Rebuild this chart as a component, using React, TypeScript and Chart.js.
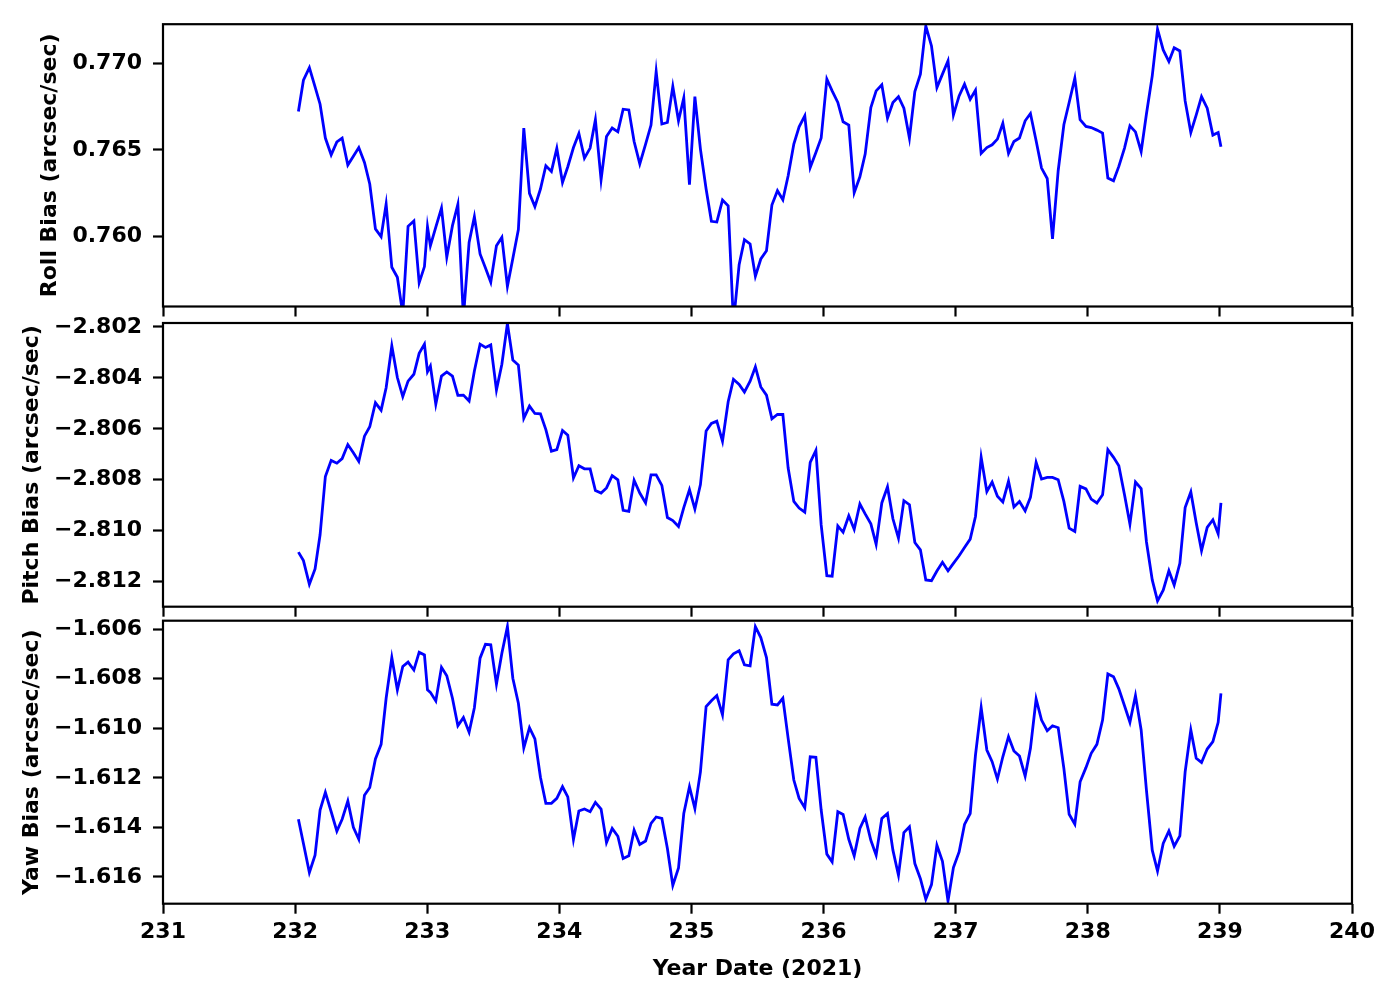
import React, { useEffect, useRef } from 'react';
import { Chart, registerables } from 'chart.js';

Chart.register(...registerables);

// Year date (2021) of each sample
const days = [
  232.025, 232.063, 232.108, 232.151, 232.189, 232.229, 232.273, 232.316, 232.356, 232.399,
  232.441, 232.482, 232.525, 232.565, 232.608, 232.651, 232.689, 232.732, 232.774, 232.815,
  232.855, 232.899, 232.939, 232.979, 233.002, 233.024, 233.065, 233.108, 233.148, 233.191,
  233.232, 233.274, 233.317, 233.357, 233.400, 233.441, 233.481, 233.524, 233.565, 233.607,
  233.648, 233.690, 233.731, 233.774, 233.815, 233.857, 233.898, 233.940, 233.981, 234.024,
  234.064, 234.107, 234.148, 234.190, 234.233, 234.273, 234.316, 234.357, 234.400, 234.443,
  234.483, 234.526, 234.566, 234.609,
  234.653, 234.694, 234.733, 234.776, 234.818, 234.859, 234.902, 234.942, 234.985, 235.026,
  235.068, 235.111, 235.151, 235.192, 235.235, 235.278, 235.318, 235.361, 235.401, 235.444,
  235.484, 235.525, 235.568, 235.609, 235.651, 235.692, 235.732, 235.775, 235.815, 235.858,
  235.899, 235.942, 235.982, 236.025, 236.065, 236.108, 236.148, 236.191, 236.232, 236.275,
  236.315, 236.358, 236.398, 236.441, 236.484, 236.525, 236.567, 236.608, 236.650, 236.691,
  236.733, 236.774, 236.817, 236.858, 236.900, 236.942, 236.983, 237.026, 237.067, 237.110,
  237.150, 237.193, 237.236,
  237.276, 237.316, 237.357, 237.400, 237.441, 237.483, 237.526, 237.566, 237.609, 237.650,
  237.693, 237.733, 237.776, 237.819, 237.859, 237.902, 237.942, 237.986, 238.026, 238.069,
  238.112, 238.152, 238.195, 238.235, 238.278, 238.319, 238.361, 238.404, 238.444, 238.488,
  238.528, 238.571, 238.614, 238.654, 238.697, 238.737, 238.780, 238.821, 238.861, 238.904,
  238.947, 238.987, 239.008,
];

const rollBias = [
  0.76723, 0.76904, 0.76977, 0.76865, 0.76765, 0.76569, 0.76472, 0.76547, 0.76569, 0.76413,
  0.76464, 0.76514, 0.76428, 0.76303, 0.76043, 0.75998, 0.76187, 0.75821, 0.75763, 0.7555,
  0.76058, 0.76089, 0.75731, 0.75825, 0.76056, 0.75946, 0.76053, 0.76164, 0.75879, 0.76062,
  0.76185, 0.7553, 0.75965, 0.76114, 0.75898, 0.75817, 0.75734, 0.75946, 0.75994, 0.75711,
  0.75872, 0.76039, 0.76627, 0.76249, 0.76172, 0.76274, 0.76409, 0.76376, 0.76509, 0.76312,
  0.76403, 0.76514, 0.76595, 0.76453, 0.76511, 0.76675, 0.76328, 0.76578, 0.76627, 0.76605,
  0.76736, 0.76732, 0.76549, 0.76419,
  0.76534, 0.76644, 0.76954, 0.76650, 0.76659, 0.76867, 0.76669, 0.76802, 0.76299, 0.76809,
  0.76505, 0.76274, 0.76087, 0.76083, 0.76210, 0.76177, 0.7550, 0.75836, 0.75981, 0.75956,
  0.75769, 0.75869, 0.75917, 0.76181, 0.76264, 0.76212, 0.76351, 0.76534, 0.76634, 0.76698,
  0.76399, 0.76486, 0.76569, 0.76910, 0.76842, 0.76775, 0.76663, 0.76644, 0.76253, 0.76345,
  0.76476, 0.76746, 0.76842, 0.76877, 0.76684, 0.76775, 0.76808, 0.76742, 0.76569, 0.76838,
  0.76939, 0.77218, 0.77102, 0.76861, 0.76939, 0.77016, 0.76702, 0.76813, 0.76881, 0.76794,
  0.76846, 0.76480, 0.76514,
  0.76530, 0.76563, 0.76655, 0.76480, 0.76549, 0.76569, 0.76669, 0.76711, 0.76553, 0.76395,
  0.76335, 0.75985, 0.76380, 0.76646, 0.76775, 0.76916, 0.76675, 0.76636, 0.76630, 0.76615,
  0.76598, 0.76338, 0.76322, 0.76405, 0.76511, 0.76640, 0.76605, 0.76491, 0.76708, 0.76929,
  0.77199, 0.77079, 0.77012, 0.77092, 0.77073, 0.76784, 0.76601, 0.76703, 0.76809, 0.76742,
  0.76586, 0.76601, 0.76519,
];

const pitchBias = [
  -2.81084, -2.81117, -2.81210, -2.81150, -2.81016, -2.80787, -2.80724, -2.80735, -2.80717, -2.80662,
  -2.80694, -2.80728, -2.80629, -2.80592, -2.80498, -2.80527, -2.80439, -2.80275, -2.80399, -2.80474,
  -2.80413, -2.80386, -2.80304, -2.80268, -2.80376, -2.80354, -2.80504, -2.80393, -2.80377, -2.80393,
  -2.80469, -2.80468, -2.80491, -2.80373, -2.80268, -2.80281, -2.80271, -2.80448, -2.80347, -2.80187,
  -2.80330, -2.80350, -2.80559, -2.80511, -2.80540, -2.80541, -2.80603, -2.80688, -2.80682, -2.80607,
  -2.80625, -2.80793, -2.80745, -2.80757, -2.80757, -2.80842, -2.80852, -2.80832, -2.80784, -2.80800,
  -2.80920, -2.80924, -2.80802, -2.80852,
  -2.80891, -2.80781, -2.80781, -2.80822, -2.80948, -2.80960, -2.80983, -2.80909, -2.80839, -2.80915,
  -2.80819, -2.80609, -2.80579, -2.80570, -2.80649, -2.80494, -2.80406, -2.80426, -2.80456, -2.80413,
  -2.80357, -2.80436, -2.80468, -2.80561, -2.80544, -2.80544, -2.80754, -2.80885, -2.80911, -2.80927,
  -2.80732, -2.80685, -2.80977, -2.81176, -2.81178, -2.80981, -2.81006, -2.80941, -2.80994, -2.80895,
  -2.80934, -2.80973, -2.81053, -2.80891, -2.80828, -2.80953, -2.81029, -2.80882, -2.80898, -2.81046,
  -2.81075, -2.81193, -2.81196, -2.81158, -2.81124, -2.81157, -2.81128, -2.81098, -2.81066, -2.81033,
  -2.80944, -2.80712, -2.80846,
  -2.80809, -2.80865, -2.80887, -2.80806, -2.80907, -2.80885, -2.80922, -2.80869, -2.80732, -2.80797,
  -2.80791, -2.80791, -2.80800, -2.80885, -2.80990, -2.81003, -2.80826, -2.80836, -2.80876, -2.80891,
  -2.80859, -2.80682, -2.80712, -2.80745, -2.80859, -2.80974, -2.80809, -2.80835, -2.81043, -2.81193,
  -2.81275, -2.81233, -2.81157, -2.81213, -2.81128, -2.80909, -2.80848, -2.80970, -2.81078, -2.80987,
  -2.80957, -2.81012, -2.80891,
];

const yawBias = [
  -1.61367, -1.61465, -1.61582, -1.61512, -1.61330, -1.61259, -1.61337, -1.61415, -1.61367, -1.61294,
  -1.61400, -1.61448, -1.61270, -1.61239, -1.61124, -1.61065, -1.60879, -1.60715, -1.60845, -1.60751,
  -1.60733, -1.60765, -1.60693, -1.60704, -1.60845, -1.60855, -1.60890, -1.60754, -1.60788, -1.60879,
  -1.60990, -1.60957, -1.61016, -1.60917, -1.60717, -1.60661, -1.60663, -1.60822, -1.60697, -1.60590,
  -1.60798, -1.60899, -1.61079, -1.60998, -1.61043, -1.61198, -1.61303, -1.61303, -1.61283, -1.61236,
  -1.61277, -1.61449, -1.61334, -1.61326, -1.61337, -1.61299, -1.61326, -1.61461, -1.61404, -1.61436,
  -1.61526, -1.61515, -1.61411, -1.61469,
  -1.61455, -1.61384, -1.61358, -1.61364, -1.61485, -1.61634, -1.61564, -1.61344, -1.61236, -1.61324,
  -1.61176, -1.60913, -1.60889, -1.60868, -1.60946, -1.60724, -1.60700, -1.60687, -1.60744, -1.60748,
  -1.60590, -1.60634, -1.60715, -1.60903, -1.60906, -1.60879, -1.61041, -1.61209, -1.61283, -1.61321,
  -1.61115, -1.61117, -1.61330, -1.61508, -1.61539, -1.61337, -1.61348, -1.61448, -1.61515, -1.61404,
  -1.61358, -1.61452, -1.61512, -1.61364, -1.61344, -1.61492, -1.61593, -1.61421, -1.61398, -1.61546,
  -1.61607, -1.61690, -1.61631, -1.61472, -1.61537, -1.61697, -1.61562, -1.61499, -1.61388, -1.61344,
  -1.61108, -1.60917, -1.61088,
  -1.61135, -1.61205, -1.61115, -1.61034, -1.61092, -1.61112, -1.61193, -1.61081, -1.60882, -1.60967,
  -1.61010, -1.60990, -1.60998, -1.61162, -1.61347, -1.61387, -1.61216, -1.61159, -1.61101, -1.61065,
  -1.60967, -1.60781, -1.60792, -1.60841, -1.60909, -1.60976, -1.60868, -1.61007, -1.61250, -1.61492,
  -1.61576, -1.61465, -1.61415, -1.61476, -1.61434, -1.61176, -1.61007, -1.61121, -1.61138, -1.61084,
  -1.61054, -1.60976, -1.60859,
];

const dayTicks = [231, 232, 233, 234, 235, 236, 237, 238, 239, 240];
const rollTicks = [0.760, 0.765, 0.770];
const pitchTicks = [-2.812, -2.810, -2.808, -2.806, -2.804, -2.802];
const yawTicks = [-1.616, -1.614, -1.612, -1.610, -1.608, -1.606];

const FONT = { family: 'DejaVu Sans', size: 22, weight: 'bold' as const };
const AXIS_RIGHT = 1352;
const AXIS_LEFT = 163;

type Panel = {
  title: string;
  values: number[];
  ticks: number[];
  min: number;
  max: number;
  top: number;
  height: number;
  areaTop: number;
  areaBottom: number;
  padLeft: number;
  showX: boolean;
};

// canvas placement: top = canvas offset on the page, areaTop / areaBottom within the canvas
const panels: Panel[] = [
  { title: 'Roll Bias (arcsec/sec)', values: rollBias, ticks: rollTicks, min: 0.75594, max: 0.77228,
    top: 0, height: 340, areaTop: 23.3, areaBottom: 306.5, padLeft: 33, showX: false },
  { title: 'Pitch Bias (arcsec/sec)', values: pitchBias, ticks: pitchTicks, min: -2.81298, max: -2.80185,
    top: 290, height: 350, areaTop: 33, areaBottom: 316.7, padLeft: 15, showX: false },
  { title: 'Yaw Bias (arcsec/sec)', values: yawBias, ticks: yawTicks, min: -1.61708, max: -1.60566,
    top: 590, height: 396, areaTop: 30.7, areaBottom: 313.7, padLeft: 15, showX: true },
];

const fmt = (v: number) => (v < 0 ? '\u2212' : '') + Math.abs(v).toFixed(3);

const boxPlugin = {
  id: 'axesBox',
  afterDatasetsDraw(chart: any) {
    const { ctx, chartArea: a } = chart;
    ctx.save();
    ctx.strokeStyle = '#000';
    ctx.lineWidth = 2.2;
    ctx.strokeRect(a.left, a.top, a.right - a.left, a.bottom - a.top);
    ctx.restore();
  },
};

function PanelChart({ p }: { p: Panel }) {
  const ref = useRef<HTMLCanvasElement | null>(null);
  useEffect(() => {
    if (!ref.current) return;
    const grid = {
      display: true,
      drawOnChartArea: false,
      drawTicks: true,
      tickLength: 10,
      tickWidth: 2.2,
      tickColor: '#000',
    };
    const chart = new Chart(ref.current, {
      type: 'line',
      data: {
        datasets: [
          {
            data: days.map((d, i) => ({ x: d, y: p.values[i] })),
            borderColor: '#0000ff',
            borderWidth: 2.8,
            pointRadius: 0,
            fill: false,
            tension: 0,
            clip: 0,
          } as any,
        ],
      },
      options: {
        responsive: false,
        animation: false,
        devicePixelRatio: 1,
        layout: { padding: { top: p.areaTop, left: p.padLeft, right: 1400 - AXIS_RIGHT, bottom: 0 } },
        plugins: { legend: { display: false }, tooltip: { enabled: false } },
        scales: {
          x: {
            type: 'linear',
            min: 231,
            max: 240,
            afterBuildTicks: (s: any) => { s.ticks = dayTicks.map((v) => ({ value: v })); },
            afterFit: (s: any) => { s.height = p.height - p.areaBottom; },
            grid,
            border: { display: false },
            ticks: {
              display: p.showX,
              color: '#000',
              font: FONT,
              padding: 5,
              maxRotation: 0,
              autoSkip: false,
              callback: (v: any) => String(Math.round(Number(v))),
            },
            title: {
              display: p.showX,
              text: 'Year Date (2021)',
              color: '#000',
              font: FONT,
              padding: { top: 4, bottom: 4 },
            },
          },
          y: {
            type: 'linear',
            min: p.min,
            max: p.max,
            afterBuildTicks: (s: any) => { s.ticks = p.ticks.map((v) => ({ value: v })); },
            afterFit: (s: any) => { s.width = AXIS_LEFT - p.padLeft; },
            grid,
            border: { display: false },
            ticks: {
              color: '#000',
              font: FONT,
              padding: 11,
              callback: (v: any) => fmt(Number(v)),
            },
            title: {
              display: true,
              text: p.title,
              color: '#000',
              font: FONT,
              padding: { top: 4, bottom: 4 },
            },
          },
        },
      } as any,
      plugins: [boxPlugin],
    });
    return () => chart.destroy();
  }, [p]);
  return (
    <canvas
      ref={ref}
      width={1400}
      height={p.height}
      style={{ position: 'absolute', left: 0, top: p.top, width: 1400, height: p.height }}
    />
  );
}

export default function App() {
  return (
    <div style={{ position: 'absolute', left: 0, top: 0, width: 1400, height: 1000, background: '#fff' }}>
      {panels.map((p) => (
        <PanelChart key={p.title} p={p} />
      ))}
    </div>
  );
}
